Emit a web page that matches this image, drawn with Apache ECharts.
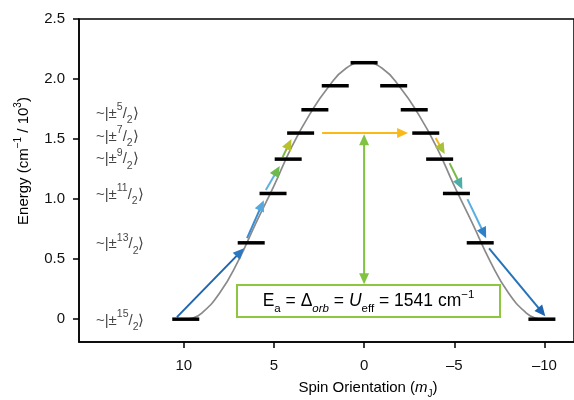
<!DOCTYPE html>
<html><head><meta charset="utf-8">
<script src="https://cdn.jsdelivr.net/npm/echarts@6/dist/echarts.min.js"></script>
<style>html,body{margin:0;padding:0;background:#fff}#c{width:574px;height:400px}</style>
</head><body><div id="c"></div>
<script>
// ---- data ----
const levelEnergies = [2.136, 1.944, 1.744, 1.550, 1.333, 1.047, 0.636, 0];
const leftM  = [0, 1.60, 2.73, 3.52, 4.21, 5.05, 6.26, 9.89];
const rightM = [null, -1.64, -2.78, -3.42, -4.19, -5.12, -6.44, -9.86];
const curveM = [-10, -9.5, -9, -8, -7, -6, -5, -4, -3, -2, -1, 0, 1, 2, 3, 4, 5, 6, 7, 8, 9, 9.5, 10];
const curveE = [0, 0.01, 0.05, 0.22, 0.48, 0.80, 1.11, 1.44, 1.71, 1.93, 2.09, 2.14, 2.09, 1.93, 1.71, 1.44, 1.11, 0.80, 0.48, 0.22, 0.05, 0.01, 0];
const ketNumerators = ['5', '7', '9', '11', '13', '15'];
const ketEnergies = [1.71, 1.52, 1.333, 1.035, 0.625, -0.01];
const xTicks = [10, 5, 0, -5, -10];
const yTicks = [0, 0.5, 1, 1.5, 2, 2.5];
// arrows: [mStart, EStart, mEnd, EEnd]
const arrowStart = [[10.38, 0.017], [6.49, 0.675], [5.45, 1.075], [4.52, 1.35], [2.33, 1.55], [-3.97, 1.508], [-4.74, 1.30], [-5.73, 1.00], [-6.93, 0.59], [0, 0.29]];
const arrowEnd   = [[6.66, 0.59], [5.56, 0.99], [4.68, 1.275], [4.03, 1.50], [-2.44, 1.55], [-4.47, 1.375], [-5.45, 1.083], [-6.77, 0.675], [-10.05, 0.025], [0, 1.54]];
const barrierText = '1541';

// ---- styles ----
const FONT = '"Liberation Sans", Arial, Helvetica, sans-serif';
const TXT = '#111';
const arrowLineColors = ['#1f66b0', '#3a8bd0', '#5db2e2', '#7cb843', '#f9b918', '#f4b622', '#79b845', '#5aaee0', '#2573bb', '#82c241'];
const arrowHeadColors = ['#2a78c2', '#55a8de', '#6dbb4f', '#b9c12a', '#f9b918', '#a7c13a', '#4caea7', '#2f80c8', '#1d63ae', '#82c241'];
const arrowDouble = [false, false, false, false, false, false, false, false, false, true];
const KET_X = 14.9;

const chart = echarts.init(document.getElementById('c'), null, {renderer: 'canvas'});

const bars = [];
levelEnergies.forEach((e, i) => {
  bars.push([leftM[i], e]);
  if (rightM[i] !== null) bars.push([rightM[i], e]);
});

const ketRich = {
  t: {fontSize: 15, lineHeight: 24, color: TXT, fontFamily: FONT},
  sup: {fontSize: 10.5, lineHeight: 12, color: TXT, fontFamily: FONT, verticalAlign: 'top'},
  sub: {fontSize: 10.5, lineHeight: 12, color: TXT, fontFamily: FONT, verticalAlign: 'bottom'}
};

const option = {
  animation: false,
  backgroundColor: '#fff',
  grid: {left: 79, top: 19, width: 501, bottom: 58, show: true, borderColor: '#000', borderWidth: 1.5, backgroundColor: 'transparent'},
  xAxis: {
    type: 'value', inverse: true, min: -11.64, max: 15.81,
    axisLine: {onZero: false, lineStyle: {color: '#000', width: 1.5}},
    axisTick: {show: true, customValues: xTicks, length: 6, lineStyle: {color: '#000', width: 1.5}},
    axisLabel: {customValues: xTicks, margin: 16, color: TXT, fontSize: 15, fontFamily: FONT,
      formatter: v => (v < 0 ? '\u2013' + Math.abs(v) : String(v))},
    splitLine: {show: false}
  },
  yAxis: {
    type: 'value', min: -0.19, max: 2.5,
    axisLine: {show: true, onZero: false, lineStyle: {color: '#000', width: 1.5}},
    axisTick: {show: true, customValues: yTicks, length: 6, lineStyle: {color: '#000', width: 1.5}},
    axisLabel: {customValues: yTicks, margin: 14, color: TXT, fontSize: 15, fontFamily: FONT,
      formatter: v => (v === 0 ? '0' : v.toFixed(1))},
    splitLine: {show: false}
  },
  series: [
    {
      type: 'line', data: curveM.map((m, i) => [m, curveE[i]]), smooth: true, symbol: 'none',
      lineStyle: {color: '#8a8a8a', width: 1.7}, z: 1, silent: true
    },
    {
      type: 'scatter', data: bars, symbol: 'rect', symbolSize: [27, 3.5],
      itemStyle: {color: '#000', opacity: 1}, z: 3, silent: true
    },
    {
      type: 'custom', z: 2, clip: false, silent: true,
      encode: {x: [0, 2], y: [1, 3]},
      data: arrowStart.map((s, i) => [s[0], s[1], arrowEnd[i][0], arrowEnd[i][1]]),
      renderItem: function (params, api) {
        const i = params.dataIndex;
        const p1 = api.coord([api.value(0), api.value(1)]);
        const p2 = api.coord([api.value(2), api.value(3)]);
        const dx = p2[0] - p1[0], dy = p2[1] - p1[1];
        const len = Math.sqrt(dx * dx + dy * dy);
        const ux = dx / len, uy = dy / len, nx = -uy, ny = ux;
        const L = 11, W = 5;
        const dbl = arrowDouble[i];
        const a = dbl ? [p1[0] + ux * L * 0.8, p1[1] + uy * L * 0.8] : p1;
        const b = [p2[0] - ux * L * 0.8, p2[1] - uy * L * 0.8];
        const children = [
          {type: 'line', shape: {x1: a[0], y1: a[1], x2: b[0], y2: b[1]},
           style: {stroke: arrowLineColors[i], lineWidth: 2}},
          {type: 'polygon', shape: {points: [p2, [p2[0] - ux * L + nx * W, p2[1] - uy * L + ny * W], [p2[0] - ux * L - nx * W, p2[1] - uy * L - ny * W]]},
           style: {fill: arrowHeadColors[i]}}
        ];
        if (dbl) {
          children.push({type: 'polygon', shape: {points: [p1, [p1[0] + ux * L + nx * W, p1[1] + uy * L + ny * W], [p1[0] + ux * L - nx * W, p1[1] + uy * L - ny * W]]},
            style: {fill: arrowHeadColors[i]}});
        }
        return {type: 'group', children: children};
      }
    },
    {
      type: 'scatter', data: ketEnergies.map(e => [KET_X, e]), symbolSize: 1,
      itemStyle: {color: 'rgba(0,0,0,0)'}, silent: true, z: 5,
      label: {
        show: true, position: 'right', distance: 0,
        formatter: p => '{t|~|\u00b1}{sup|' + ketNumerators[p.dataIndex] + '}{t|/}{sub|2}{t|\u27e9}',
        rich: ketRich
      }
    }
  ],
  graphic: [
    {type: 'rect', shape: {x: 237, y: 285, width: 263, height: 32}, style: {fill: '#fff', stroke: '#8dc63f', lineWidth: 2}, z: 100},
    {type: 'text', x: 368.5, y: 301.5, z: 101, style: {
      text: '{n|E}{sb|a}{n| = \u0394}{sbi|orb}{n| = }{ni|U}{sb|eff}{n| = ' + barrierText + ' cm}{sp|\u22121}',
      align: 'center', verticalAlign: 'middle',
      rich: {
        n: {fontSize: 17.5, lineHeight: 26, color: TXT, fontFamily: FONT},
        ni: {fontSize: 17.5, lineHeight: 26, color: TXT, fontFamily: FONT, fontStyle: 'italic'},
        sb: {fontSize: 11.5, lineHeight: 14, color: TXT, fontFamily: FONT, verticalAlign: 'bottom'},
        sbi: {fontSize: 11.5, lineHeight: 14, color: TXT, fontFamily: FONT, fontStyle: 'italic', verticalAlign: 'bottom'},
        sp: {fontSize: 11.5, lineHeight: 14, color: TXT, fontFamily: FONT, verticalAlign: 'top'}
      }
    }},
    {type: 'text', x: 24, y: 161, rotation: Math.PI / 2, style: {
      text: '{n|Energy (cm}{sp|\u22121}{n| / 10}{sp|3}{n|)}',
      align: 'center', verticalAlign: 'middle',
      rich: {
        n: {fontSize: 15, lineHeight: 22, color: TXT, fontFamily: FONT},
        sp: {fontSize: 10, lineHeight: 12, color: TXT, fontFamily: FONT, verticalAlign: 'top'}
      }
    }},
    {type: 'text', x: 368, y: 388, style: {
      text: '{n|Spin Orientation (}{i|m}{sb|J}{n|)}',
      align: 'center', verticalAlign: 'middle',
      rich: {
        n: {fontSize: 15, lineHeight: 22, color: TXT, fontFamily: FONT},
        i: {fontSize: 15, lineHeight: 22, color: TXT, fontFamily: FONT, fontStyle: 'italic'},
        sb: {fontSize: 10, lineHeight: 12, color: TXT, fontFamily: FONT, verticalAlign: 'bottom'}
      }
    }}
  ]
};
chart.setOption(option);
</script>
</body></html>
